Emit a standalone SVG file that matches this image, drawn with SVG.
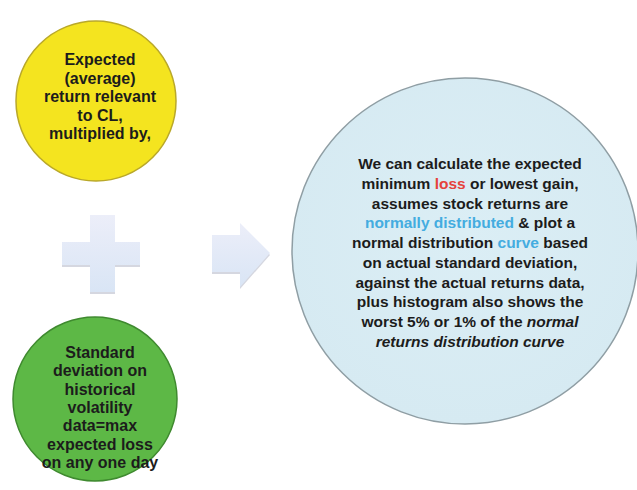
<svg xmlns="http://www.w3.org/2000/svg" width="637" height="490" viewBox="0 0 637 490">
<defs>
<linearGradient id="lg" x1="0" y1="0" x2="0" y2="1">
<stop offset="0" stop-color="#eceef9"/>
<stop offset="1" stop-color="#d9e5f5"/>
</linearGradient>
<radialGradient id="rb" cx="0.5" cy="0.45" r="0.55">
<stop offset="0" stop-color="#dbeef5"/>
<stop offset="1" stop-color="#d6eaf2"/>
</radialGradient>
</defs>
<style>
text{font-family:"Liberation Sans",Arial,sans-serif;font-weight:bold;text-anchor:middle;fill:#1c1c1c}
.s{font-size:16px}
.b{font-size:15.5px}
.red{fill:#e5433c}
.blu{fill:#44ace0}
.it{font-style:italic}
.shape{fill:url(#lg)}
.shadow{fill:#b9bccb;opacity:0.6}
</style>
<rect width="637" height="490" fill="#ffffff"/>
<g id="yellow">
<circle cx="96" cy="101" r="80" fill="#f4e41f" stroke="#b9a82a" stroke-width="1.5"/>
<text class="s" x="100" y="65">Expected</text>
<text class="s" x="100" y="83.5">(average)</text>
<text class="s" x="100" y="102">return relevant</text>
<text class="s" x="100" y="120.5">to CL,</text>
<text class="s" x="100" y="139">multiplied by,</text>
</g>
<g id="green">
<circle cx="95" cy="399" r="82" fill="#5db846" stroke="#3f8a2f" stroke-width="1.5"/>
<text class="s" x="100" y="358">Standard</text>
<text class="s" x="100" y="376.3">deviation on</text>
<text class="s" x="100" y="394.7">historical</text>
<text class="s" x="100" y="413">volatility</text>
<text class="s" x="100" y="431.3">data=max</text>
<text class="s" x="100" y="449.7">expected loss</text>
<text class="s" x="100" y="468">on any one day</text>
</g>
<g id="plus">
<path class="shadow" d="M90 217 H115 V244 H140 V267 H115 V294 H90 V267 H62 V244 H90 Z"/>
<path class="shape" d="M90 215 H115 V242 H140 V265 H115 V292 H90 V265 H62 V242 H90 Z"/>
</g>
<g id="arrow">
<path class="shadow" d="M212 237 H240 V225 L270 255 L240 289 V274 H212 Z"/>
<path class="shape" d="M212 235 H240 V223 L270 253 L240 287 V272 H212 Z"/>
</g>
<g id="blue">
<circle cx="465" cy="251" r="173" fill="url(#rb)" stroke="#8f9ea4" stroke-width="1.5"/>
<text class="b" x="470" y="169">We can calculate the expected</text>
<text class="b" x="470" y="188.75">minimum <tspan class="red">loss</tspan> or lowest gain,</text>
<text class="b" x="470" y="208.5">assumes stock returns are</text>
<text class="b" x="470" y="228.25"><tspan class="blu">normally distributed</tspan> &amp; plot a</text>
<text class="b" x="470" y="248">normal distribution <tspan class="blu">curve</tspan> based</text>
<text class="b" x="470" y="267.75">on actual standard deviation,</text>
<text class="b" x="470" y="287.5">against the actual returns data,</text>
<text class="b" x="470" y="307.25">plus histogram also shows the</text>
<text class="b" x="470" y="327">worst 5% or 1% of the <tspan class="it">normal</tspan></text>
<text class="b it" x="470" y="346.75">returns distribution curve</text>
</g>
<g id="connectors"></g>
</svg>
